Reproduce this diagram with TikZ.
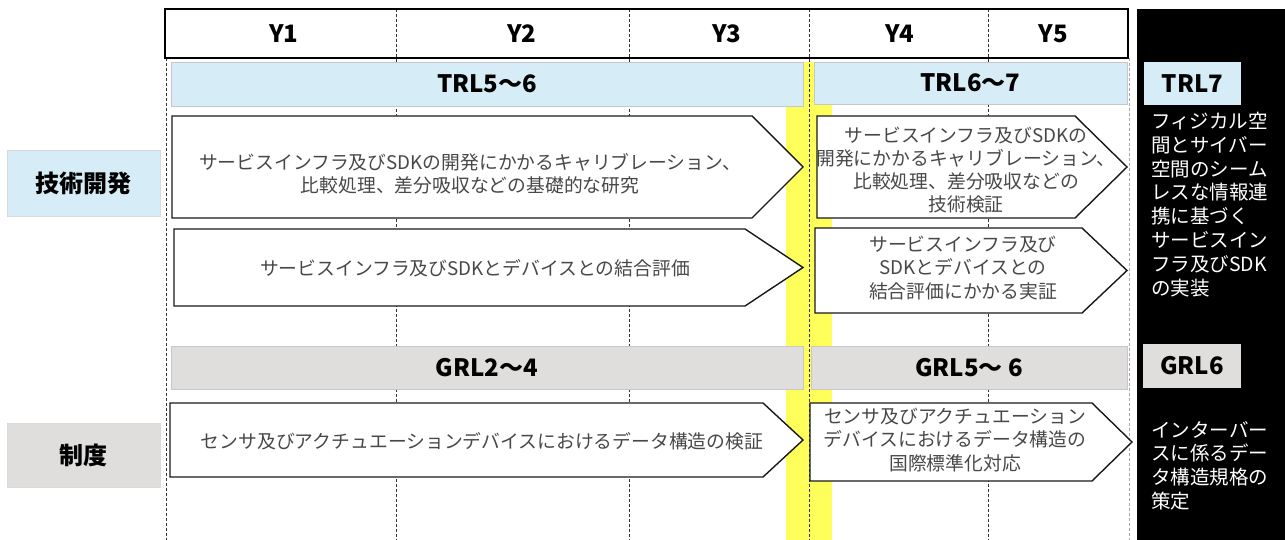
\documentclass[tikz,border=0pt]{standalone}
\usepackage{fontspec}
\setmainfont{Noto Sans CJK JP}
\definecolor{lblue}{HTML}{D6EDF7}
\definecolor{lgray}{HTML}{E0DDDD}
\definecolor{milestoneyellow}{HTML}{FFFF5C}
\definecolor{txtgray}{HTML}{484848}
\newcommand{\chev}[6]{%
  \draw[chevline] (#1,#2) -- (#5,#2) -- (#3,#6) -- (#5,#4) -- (#1,#4) -- cycle;}
\begin{document}
\begin{tikzpicture}[x=1pt,y=-1pt,
  vdash/.style={draw=black!80, line width=0.6pt, dash pattern=on 3pt off 2pt},
  chevline/.style={draw=black!90, fill=white, line width=1.4pt, line join=miter},
  bandbox/.style={draw=black!22, line width=0.6pt, inner sep=0pt, font=\fontsize{24}{28}\selectfont\bfseries},
  hdr/.style={font=\fontsize{24}{28}\selectfont\bfseries, inner sep=0pt},
  cat/.style={inner sep=0pt, minimum width=153pt, font=\fontsize{24}{28}\selectfont\bfseries},
  atext/.style={align=center, text=txtgray, inner sep=0pt, font=\fontsize{18.8}{23.2}\selectfont},
  ptext/.style={align=left, text=white, inner sep=0pt, anchor=north west, font=\fontsize{19.5}{23.8}\selectfont}]
\useasboundingbox (0,0) rectangle (1285,540);
% yellow milestone bar
\fill[fill=milestoneyellow] (786,62) rectangle (832,540);
% black result panel
\fill[fill=black] (1137,9) rectangle (1285,540);
% grid lines
\foreach \x in {396,629,809,988} \draw[vdash] (\x,9) -- (\x,540);
\draw[vdash] (166,58) -- (166,540);
\draw[vdash, draw=black!35] (1129,58) -- (1129,540);
% header
\draw[line width=1.5pt] (165,9) rectangle (1128,58);
\node[hdr] (y1) at (284,34) {Y1};
\node[hdr] (y2) at (522,34) {Y2};
\node[hdr] (y3) at (727,34) {Y3};
\node[hdr] (y4) at (900,34) {Y4};
\node[hdr] (y5) at (1053,34) {Y5};
% category labels
\node[cat, fill=lblue, minimum height=66pt, draw=black!15, line width=0.5pt] (tech) at (83.5,183) {技術開発};
\node[cat, fill=lgray, minimum height=64pt, draw=black!15, line width=0.5pt] (inst) at (83.5,455) {制度};
% readiness bands
\node[bandbox, fill=lblue, minimum width=632pt, minimum height=44pt] (trl56) at (487,84) {TRL5～6};
\node[bandbox, fill=lblue, minimum width=313pt, minimum height=42pt] (trl67) at (970.5,83) {TRL6～7};
\node[bandbox, draw=none, fill=lblue, minimum width=97pt, minimum height=43pt] (trl7) at (1192.5,83.5) {TRL7};
\node[bandbox, fill=lgray, minimum width=632pt, minimum height=43pt] (grl24) at (487,367.5) {GRL2～4};
\node[bandbox, fill=lgray, minimum width=316pt, minimum height=43pt] (grl56) at (969,367.5) {GRL5～ 6};
\node[bandbox, draw=none, fill=lgray, minimum width=98pt, minimum height=44pt] (grl6) at (1192,366) {GRL6};
% chevrons
\chev{172}{116}{803}{218}{752}{167}
\node[atext] (a1) at (470,174) {サービスインフラ及びSDKの開発にかかるキャリブレーション、\\比較処理、差分吸収などの基礎的な研究};
\chev{174}{229}{803}{306}{745}{267.5}
\node[atext] (a2) at (475,268) {サービスインフラ及びSDKとデバイスとの結合評価};
\chev{817}{116}{1127}{218}{1075}{167}
\node[atext] (a3) at (966,170) {サービスインフラ及びSDKの\\開発にかかるキャリブレーション、\\比較処理、差分吸収などの\\技術検証};
\chev{815}{228}{1127}{313}{1082}{270.5}
\node[atext] (a4) at (963,268) {サービスインフラ及び\\SDKとデバイスとの\\結合評価にかかる実証};
\chev{170}{403}{803}{477}{763}{440}
\node[atext] (a5) at (482,441) {センサ及びアクチュエーションデバイスにおけるデータ構造の検証};
\chev{810}{403}{1132}{481}{1092}{442}
\node[atext] (a6) at (955,440) {センサ及びアクチュエーション\\デバイスにおけるデータ構造の\\国際標準化対応};
% panel texts
\node[ptext] (goal1) at (1151,112) {フィジカル空\\間とサイバー\\空間のシーム\\レスな情報連\\携に基づく\\サービスイン\\フラ及びSDK\\の実装};
\node[ptext] (goal2) at (1151,421) {インターバー\\スに係るデー\\タ構造規格の\\策定};
\end{tikzpicture}
\end{document}
